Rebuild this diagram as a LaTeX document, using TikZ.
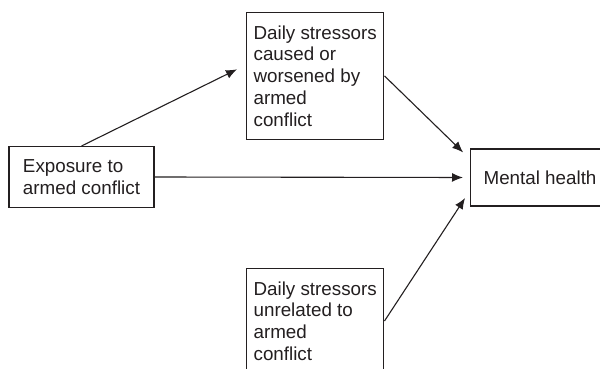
\documentclass[tikz,border=0pt]{standalone}
\usepackage{fontspec}
\setmainfont{Liberation Sans}
\usepackage{tikz}
\usetikzlibrary{arrows.meta}
\definecolor{ink}{RGB}{35,31,32}

\begin{document}
\begin{tikzpicture}[x=0.5pt,y=-0.5pt,
  box/.style={draw=ink,line width=0.6pt,text=ink,align=left,inner ysep=6.5pt,
    font=\fontsize{9.4}{10.85}\selectfont},
  link/.style={draw=ink,line width=0.55pt,->,>={Latex[length=5.5pt,width=4.5pt]}}]
\clip (0,0) rectangle (600,369);
\fill [white] (0,0) rectangle (600,369);
\node [box,inner xsep=7pt] (expo) at (81.5,177) {Exposure to\\armed conflict};
\node [box,inner xsep=3.5pt,anchor=north west] (stresscaused) at (246,12)
  {Daily stressors\\caused or\\worsened by\\armed\\conflict};
\node [box,inner xsep=3.5pt,anchor=north west] (stressother) at (246,268)
  {Daily stressors\\unrelated to\\armed\\conflict};
\node [box,inner xsep=6.5pt,minimum height=28.5pt,anchor=west] (mental) at (470,177.5) {Mental health};
\draw [link,shorten >=5pt] (expo.north) -- ([yshift=5.5pt]stresscaused.west);
\draw [link,shorten >=4.8pt] (stresscaused.east) -- ([yshift=9.2pt]mental.west);
\draw [link,shorten >=3.5pt] (expo.east) -- (mental.west);
\draw [link,shorten >=4.5pt] (stressother.east) -- ([yshift=-6.5pt]mental.west);
\end{tikzpicture}
\end{document}
